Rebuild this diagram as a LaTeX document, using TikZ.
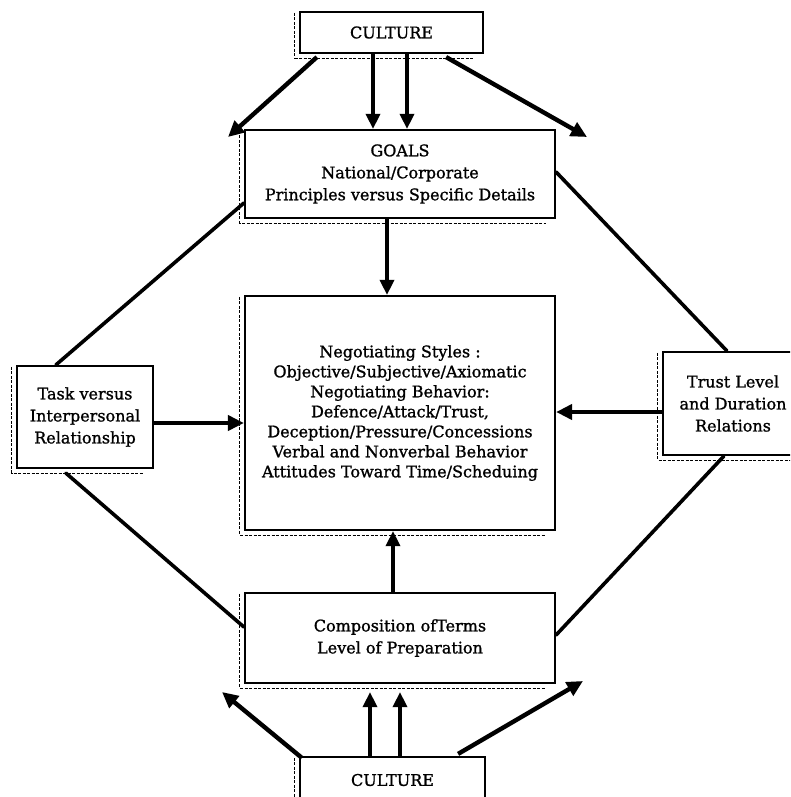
\documentclass[tikz,border=0pt]{standalone}
\usepackage{fontspec}
\setmainfont{DejaVu Serif}[FakeBold=1.2]
\usetikzlibrary{arrows.meta,calc}

\tikzset{
  box/.style={draw, line width=2.2pt, inner sep=0pt, align=center,
    font=\fontsize{16}{22}\selectfont, fill=white},
  midbox/.style={box, font=\fontsize{16}{20}\selectfont},
  shade line/.style={line width=1pt, dash pattern=on 3pt off 1.5pt},
  flow/.style={line width=3.4pt, -{Triangle[length=15pt,width=14pt]}},
  bigflow/.style={line width=4.4pt, -{Triangle[length=16pt,width=15pt]}},
  link/.style={line width=3.6pt, line cap=round},
}

% thin broken double line along the left and bottom sides of a box
\newcommand\boxshade[1]{%
  \draw[shade line] ([xshift=-4pt,yshift=-2pt]#1.north west)
    -- ([xshift=-4pt,yshift=-4pt]#1.south west)
    -- ([xshift=-10pt,yshift=-4pt]#1.south east);
}

\begin{document}
\begin{tikzpicture}[x=1pt,y=-1pt]
  \clip (0,0) rectangle (790,797);
  \fill[white] (0,0) rectangle (790,797);

  % boxes
  \node[box, minimum width=183pt, minimum height=41pt] (ctop) at (391.5,32.5) {CULTURE};
  \node[box, minimum width=310pt, minimum height=88pt] (goals) at (400,174)
    {GOALS\\National/Corporate\\Principles versus Specific Details};
  \node[midbox, minimum width=310pt, minimum height=234pt] (core) at (400,413)
    {Negotiating Styles :\\Objective/Subjective/Axiomatic\\Negotiating Behavior:\\
     Defence/Attack/Trust,\\Deception/Pressure/Concessions\\
     Verbal and Nonverbal Behavior\\Attitudes Toward Time/Scheduing};
  \node[box, minimum width=136pt, minimum height=102pt] (task) at (85,417)
    {Task versus\\Interpersonal\\Relationship};
  \node[box, minimum width=140pt, minimum height=103pt] (trust) at (733,403.5)
    {Trust Level\\and Duration\\Relations};
  \node[box, minimum width=310pt, minimum height=90pt] (terms) at (400,638)
    {Composition ofTerms\\Level of Preparation};
  \node[box, minimum width=185pt, minimum height=46pt] (cbot) at (392.5,780) {CULTURE};

  \boxshade{ctop}
  \boxshade{goals}
  \boxshade{core}
  \boxshade{task}
  \boxshade{trust}
  \boxshade{terms}
  \boxshade{cbot}

  % free ends of the outward arrows
  \coordinate (tl) at (228,137);
  \coordinate (tr) at (587,137);
  \coordinate (bl) at (222,692);
  \coordinate (br) at (583,681);

  % culture above
  \draw[bigflow] ([xshift=18pt,yshift=-3pt]ctop.south west) -- (tl);
  \draw[bigflow] ([xshift=-38pt,yshift=-3pt]ctop.south east) -- (tr);
  \draw[flow] ([xshift=-18.5pt]ctop.south) -- ([xshift=-27pt]goals.north);
  \draw[flow] ([xshift=15.5pt]ctop.south) -- ([xshift=7pt]goals.north);

  % culture below
  \draw[bigflow] ([xshift=3pt,yshift=-2pt]cbot.north west) -- (bl);
  \draw[bigflow] ([xshift=-28pt,yshift=2pt]cbot.north east) -- (br);
  \draw[flow, shorten >=8pt] ([xshift=-22.5pt]cbot.north) -- ([xshift=-30pt]terms.south);
  \draw[flow, shorten >=8pt] ([xshift=7.5pt]cbot.north) -- ([xshift=0pt]terms.south);

  % into the central box
  \draw[flow] ([xshift=-13pt]goals.south) -- ([xshift=-13pt]core.north);
  \draw[flow] ([xshift=-7pt]terms.north) -- ([xshift=-7pt]core.south);
  \draw[bigflow] ([yshift=-6pt]task.east) -- ([yshift=-6pt]task.east -| core.west);
  \draw[bigflow] ([yshift=-8.5pt]trust.west) -- ([yshift=-8.5pt]trust.west -| core.east);

  % diamond of plain links
  \draw[link] ([yshift=-29pt]goals.west) -- ([xshift=40pt]task.north west);
  \draw[link] ([yshift=2pt]goals.east) -- ([xshift=65pt]trust.north west);
  \draw[link] ([xshift=50pt,yshift=-4pt]task.south west) -- ([yshift=11pt]terms.west);
  \draw[link] ([yshift=3pt]terms.east) -- ([xshift=62pt]trust.south west);
\end{tikzpicture}
\end{document}
